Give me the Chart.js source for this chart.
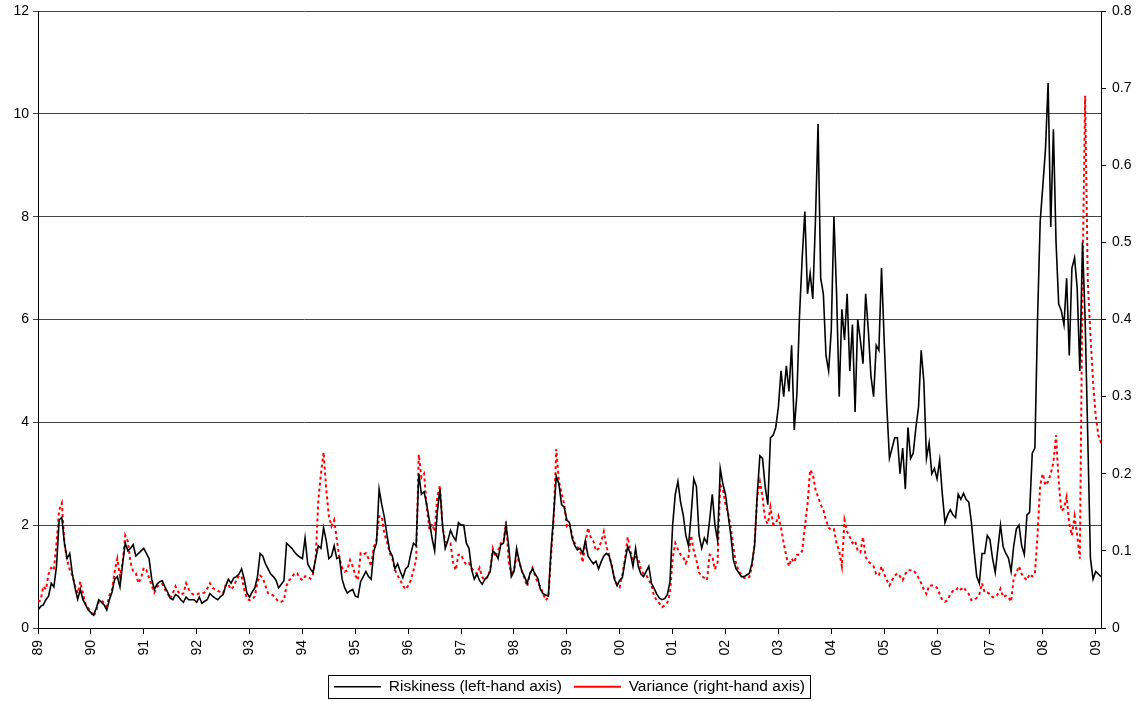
<!DOCTYPE html>
<html><head><meta charset="utf-8">
<script src="https://cdn.jsdelivr.net/npm/chart.js@4.4.1/dist/chart.umd.min.js"></script>
<style>html,body{margin:0;padding:0;background:#fff;overflow:hidden}</style>
</head><body>
<canvas id="c" width="1148" height="701"></canvas>
<script>
// sampling: one value every 0.05 year starting Jan 1989
const START_YEAR = 1989;
const STEP = 0.05;
const yearTicks = [1989,1990,1991,1992,1993,1994,1995,1996,1997,1998,1999,2000,2001,2002,2003,2004,2005,2006,2007,2008,2009];
const leftTicks = [0,2,4,6,8,10,12];
const rightTicks = [0,0.1,0.2,0.3,0.4,0.5,0.6,0.7,0.8];

const riskiness = [
0.35,0.42,0.45,0.55,0.62,0.87,0.8,1.2,2.1,2.15,1.65,1.35,1.45,1.05,0.78,0.56,0.75,0.55,0.45,0.35,
0.3,0.25,0.38,0.55,0.5,0.45,0.35,0.55,0.7,0.95,1.0,0.8,1.25,1.65,1.5,1.55,1.62,1.4,1.45,1.5,
1.55,1.45,1.35,0.95,0.75,0.85,0.9,0.92,0.8,0.7,0.58,0.55,0.65,0.62,0.55,0.5,0.6,0.55,0.55,0.55,
0.5,0.6,0.48,0.52,0.55,0.67,0.62,0.58,0.55,0.61,0.65,0.82,0.95,0.87,0.97,1.0,1.05,1.15,0.95,0.68,
0.6,0.7,0.78,1.0,1.45,1.4,1.25,1.15,1.05,1.0,0.93,0.78,0.85,0.92,1.65,1.6,1.55,1.48,1.42,1.38,
1.35,1.75,1.25,1.15,1.08,1.35,1.6,1.55,1.95,1.7,1.35,1.4,1.6,1.35,1.38,0.95,0.78,0.68,0.72,0.75,
0.62,0.6,0.9,1.0,1.1,1.0,0.95,1.5,1.65,2.7,2.4,2.15,1.8,1.5,1.4,1.15,1.25,1.1,0.98,1.15,
1.2,1.45,1.65,1.6,3.0,2.6,2.65,2.4,2.1,1.75,1.5,2.25,2.7,2.0,1.55,1.7,1.9,1.78,1.7,2.05,
2.0,2.0,1.65,1.55,1.13,0.95,1.05,0.92,0.85,0.95,1.0,1.1,1.5,1.45,1.35,1.62,1.65,2.0,1.6,1.0,
1.1,1.55,1.3,1.1,1.0,0.87,1.05,1.15,1.05,0.97,0.75,0.67,0.64,0.62,1.5,2.2,2.95,2.8,2.4,2.35,
2.1,2.05,1.75,1.6,1.52,1.55,1.45,1.7,1.4,1.32,1.25,1.3,1.15,1.29,1.4,1.45,1.4,1.2,0.95,0.82,
0.93,0.98,1.3,1.58,1.45,1.2,1.55,1.2,1.05,1.0,1.1,1.2,0.87,0.77,0.66,0.58,0.55,0.57,0.65,0.9,
2.0,2.6,2.85,2.45,2.2,1.8,1.6,2.2,2.9,2.75,1.8,1.55,1.75,1.65,2.1,2.6,2.0,1.7,3.1,2.8,
2.6,2.2,1.8,1.32,1.15,1.08,1.0,1.0,1.03,1.06,1.26,1.6,2.6,3.35,3.3,2.75,2.4,3.7,3.75,3.9,
4.3,5.0,4.5,5.1,4.6,5.5,3.85,4.55,6.1,7.2,8.1,6.5,6.9,6.4,7.9,9.8,6.8,6.5,5.3,5.0,
5.8,8.0,6.5,4.5,6.2,5.6,6.5,5.0,5.9,4.2,6.0,5.6,5.14,6.5,5.8,4.9,4.5,5.5,5.4,7.0,
5.6,4.3,3.3,3.5,3.7,3.7,3.0,3.5,2.7,3.9,3.3,3.4,3.9,4.3,5.4,4.8,3.3,3.6,3.0,3.1,
2.9,3.27,2.6,2.05,2.2,2.3,2.2,2.15,2.6,2.5,2.62,2.5,2.45,2.05,1.5,1.0,0.87,1.45,1.45,1.8,
1.72,1.35,1.08,1.55,2.0,1.58,1.45,1.36,1.1,1.6,1.93,2.0,1.6,1.43,2.2,2.25,3.4,3.5,6.0,7.9,
8.6,9.3,10.6,7.8,9.7,7.5,6.3,6.17,5.9,6.8,5.3,7.0,7.2,6.6,5.0,7.5,6.0,3.7,1.36,0.95,
1.1,1.05,1.0
];

const variance = [
0.034,0.036,0.054,0.05,0.07,0.078,0.075,0.11,0.153,0.162,0.11,0.088,0.076,0.068,0.055,0.045,0.06,0.045,0.031,0.026,
0.021,0.015,0.022,0.034,0.036,0.032,0.028,0.042,0.05,0.073,0.09,0.067,0.084,0.12,0.112,0.085,0.073,0.071,0.058,0.065,
0.078,0.075,0.065,0.055,0.046,0.053,0.057,0.057,0.05,0.045,0.038,0.045,0.054,0.047,0.043,0.045,0.058,0.05,0.045,0.043,
0.043,0.045,0.045,0.046,0.051,0.058,0.052,0.05,0.048,0.047,0.045,0.056,0.056,0.05,0.054,0.062,0.068,0.067,0.05,0.038,
0.036,0.037,0.041,0.06,0.068,0.065,0.055,0.045,0.044,0.042,0.038,0.034,0.034,0.036,0.055,0.062,0.065,0.071,0.071,0.065,
0.062,0.067,0.067,0.064,0.07,0.09,0.165,0.2,0.228,0.18,0.145,0.132,0.14,0.115,0.09,0.078,0.073,0.075,0.088,0.08,
0.068,0.062,0.097,0.095,0.097,0.09,0.08,0.105,0.114,0.145,0.145,0.122,0.112,0.097,0.09,0.075,0.068,0.062,0.055,0.05,
0.055,0.062,0.075,0.088,0.225,0.195,0.2,0.157,0.128,0.135,0.125,0.17,0.185,0.13,0.112,0.11,0.11,0.084,0.075,0.095,
0.095,0.087,0.082,0.084,0.077,0.074,0.07,0.078,0.066,0.062,0.066,0.075,0.103,0.092,0.1,0.11,0.11,0.138,0.085,0.071,
0.074,0.095,0.085,0.074,0.064,0.054,0.07,0.078,0.068,0.058,0.054,0.045,0.036,0.04,0.093,0.14,0.232,0.19,0.175,0.16,
0.132,0.135,0.12,0.11,0.105,0.1,0.085,0.11,0.13,0.118,0.113,0.1,0.103,0.112,0.125,0.105,0.095,0.08,0.065,0.056,
0.053,0.07,0.09,0.118,0.1,0.088,0.092,0.09,0.076,0.07,0.069,0.062,0.056,0.041,0.036,0.032,0.027,0.029,0.033,0.045,
0.09,0.11,0.102,0.095,0.092,0.084,0.092,0.12,0.1,0.088,0.072,0.067,0.065,0.062,0.095,0.093,0.076,0.085,0.185,0.18,
0.16,0.148,0.13,0.105,0.083,0.074,0.069,0.065,0.064,0.066,0.08,0.11,0.17,0.19,0.17,0.14,0.135,0.157,0.135,0.135,
0.145,0.13,0.11,0.093,0.08,0.09,0.085,0.095,0.095,0.1,0.131,0.16,0.205,0.2,0.18,0.17,0.16,0.153,0.14,0.13,
0.127,0.128,0.11,0.1,0.08,0.14,0.125,0.118,0.11,0.113,0.1,0.098,0.118,0.092,0.086,0.083,0.08,0.07,0.068,0.08,
0.07,0.062,0.055,0.062,0.068,0.071,0.067,0.062,0.07,0.075,0.075,0.075,0.071,0.065,0.058,0.05,0.044,0.055,0.055,0.055,
0.052,0.044,0.036,0.034,0.036,0.044,0.048,0.048,0.053,0.05,0.053,0.048,0.044,0.036,0.036,0.039,0.044,0.058,0.046,0.046,
0.044,0.04,0.04,0.044,0.051,0.04,0.042,0.04,0.034,0.065,0.072,0.08,0.07,0.065,0.062,0.07,0.067,0.07,0.12,0.185,
0.2,0.185,0.19,0.2,0.215,0.25,0.19,0.152,0.155,0.17,0.135,0.12,0.145,0.12,0.09,0.45,0.69,0.45,0.38,0.32,
0.275,0.25,0.24
];

const toPoints = arr => arr.map((v, i) => ({x: START_YEAR + i * STEP, y: v}));
const FONT = "'Liberation Sans', Arial, sans-serif";
const LEGEND_HEIGHT = 34;

const legendFrame = {
  id: 'legendFrame',
  beforeLayout(chart) {
    const l = chart.legend;
    if (l && !l._fixedFit) {
      const orig = l.fit;
      l.fit = function () { orig.call(this); this.height = LEGEND_HEIGHT; };
      l._fixedFit = true;
    }
  },
  afterDraw(chart) {
    const l = chart.legend;
    if (!l || !l.legendHitBoxes || !l.legendHitBoxes.length) return;
    const hb = l.legendHitBoxes;
    const x0 = Math.min(...hb.map(h => h.left)) - 6;
    const x1 = Math.max(...hb.map(h => h.left + h.width)) + 5;
    const yc = hb[0].top + hb[0].height / 2;
    const ctx = chart.ctx;
    ctx.save();
    ctx.strokeStyle = '#000';
    ctx.lineWidth = 1;
    ctx.setLineDash([]);
    ctx.strokeRect(Math.round(x0) + 0.5, Math.round(yc - 12) + 0.5, Math.round(x1 - x0), 23);
    ctx.restore();
  }
};

const noPad = s => { s.paddingTop = 0; s.paddingBottom = 0; };

new Chart(document.getElementById('c'), {
  type: 'line',
  data: {
    datasets: [
      {
        label: 'Riskiness (left-hand axis)',
        data: toPoints(riskiness),
        yAxisID: 'y',
        borderColor: '#000000',
        borderWidth: 1.6,
        pointRadius: 0,
        tension: 0,
        fill: false
      },
      {
        label: 'Variance (right-hand axis)',
        data: toPoints(variance),
        yAxisID: 'y1',
        borderColor: '#ff0000',
        borderWidth: 2,
        borderDash: [3, 3],
        pointRadius: 0,
        tension: 0,
        fill: false
      }
    ]
  },
  options: {
    responsive: false,
    animation: false,
    devicePixelRatio: 1,
    layout: {padding: {top: 11, left: 0, right: 0, bottom: 0}},
    plugins: {
      tooltip: {enabled: false},
      legend: {
        position: 'bottom',
        fullSize: false,
        labels: {
          usePointStyle: true,
          pointStyle: 'line',
          pointStyleWidth: 47,
          color: '#000',
          padding: 12,
          font: {family: FONT, size: 15.5}
        }
      }
    },
    scales: {
      x: {
        type: 'linear',
        min: 1989,
        max: 2009.1,
        afterBuildTicks: s => { s.ticks = yearTicks.map(v => ({value: v})); },
        afterFit: s => { s.height = 39; s.paddingLeft = 0; s.paddingRight = 0; },
        ticks: {
          autoSkip: false,
          minRotation: 90,
          maxRotation: 90,
          padding: 6,
          color: '#000',
          font: {family: FONT, size: 14},
          callback: v => String(v % 100).padStart(2, '0')
        },
        grid: {drawOnChartArea: false, drawTicks: true, tickLength: 6, color: '#000'},
        border: {display: true, color: '#000', width: 1}
      },
      y: {
        position: 'left',
        min: 0,
        max: 12,
        afterBuildTicks: s => { s.ticks = leftTicks.map(v => ({value: v})); },
        afterFit: s => { s.width = 38; noPad(s); },
        ticks: {color: '#000', padding: 4, font: {family: FONT, size: 14}},
        grid: {color: '#444', lineWidth: 1, tickLength: 5, drawTicks: true},
        border: {display: true, color: '#000', width: 1}
      },
      y1: {
        position: 'right',
        min: 0,
        max: 0.8,
        afterBuildTicks: s => { s.ticks = rightTicks.map(v => ({value: v})); },
        afterFit: s => { s.width = 47; noPad(s); },
        ticks: {color: '#000', padding: 6, font: {family: FONT, size: 14},
                callback: v => String(+v.toFixed(1))},
        grid: {drawOnChartArea: false, drawTicks: true, tickLength: 5, color: '#000'},
        border: {display: true, color: '#000', width: 1}
      }
    }
  },
  plugins: [legendFrame]
});
</script>
</body></html>
